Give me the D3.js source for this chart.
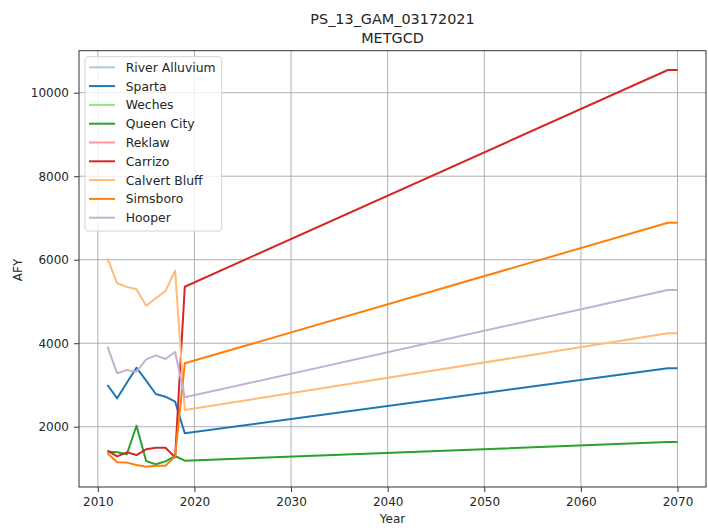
<!DOCTYPE html>
<html>
<head>
<meta charset="utf-8">
<script src="https://cdn.jsdelivr.net/npm/d3@7"></script>
<style>
body { margin:0; background:#fff; }
text { font-family:"DejaVu Sans", sans-serif; fill:#262626; }
</style>
</head>
<body>
<div id="chart-area"></div>
<script>
// data
const years = [2011,2012,2013,2014,2015,2016,2017,2018,2019,2069,2070]

const riverAlluvium = []
const sparta = [2999,2680,3054,3413,3102,2783,2719,2599,1842,3398,3398]
const weches = []
const queenCity = [1401,1387,1339,2024,1178,1099,1170,1298,1186,1633,1633]
const reklaw = []
const carrizo = [1425,1291,1387,1322,1459,1497,1497,1267,5353,10544,10544]
const calvertBluff = [6034,5435,5350,5291,4898,5075,5250,5737,2400,4237,4237]
const simsboro = [1363,1147,1140,1083,1042,1066,1066,1290,3518,6886,6886]
const hooper = [3916,3279,3358,3317,3614,3710,3622,3789,2704,5274,5274]

const seriesNames = ['River Alluvium','Sparta','Weches','Queen City','Reklaw','Carrizo','Calvert Bluff','Simsboro','Hooper']
const seriesValues = [riverAlluvium,sparta,weches,queenCity,reklaw,carrizo,calvertBluff,simsboro,hooper]
const seriesColors = ['#aec7e8','#1f77b4','#98df8a','#2ca02c','#ff9896','#d62728','#ffbb78','#ff7f0e','#c5b0d5']

const xTicks = [2010,2020,2030,2040,2050,2060,2070]
const yTicks = [2000,4000,6000,8000,10000]

const MARGIN = { LEFT:79, RIGHT:2, TOP:50.7, BOTTOM:44 }
const WIDTH = 708 - MARGIN.LEFT - MARGIN.RIGHT
const HEIGHT = 531 - MARGIN.TOP - MARGIN.BOTTOM

const svg = d3.select('#chart-area')
.append('svg')
.attr('width',708)
.attr('height',531)

const g = svg.append('g')
.attr('transform',`translate(${MARGIN.LEFT},${MARGIN.TOP})`)

const x = d3.scaleLinear()
.domain([2008.05,2072.95])
.range([0,WIDTH])

const y = d3.scaleLinear()
.domain([556,11006])
.range([HEIGHT,0])

// grid
g.append('g')
.selectAll('line')
.data(xTicks)
.enter().append('line')
.attr('x1',d=>x(d)).attr('x2',d=>x(d))
.attr('y1',0).attr('y2',HEIGHT)
.attr('stroke','#b0b0b0').attr('stroke-width',1)

g.append('g')
.selectAll('line')
.data(yTicks)
.enter().append('line')
.attr('y1',d=>y(d)).attr('y2',d=>y(d))
.attr('x1',0).attr('x2',WIDTH)
.attr('stroke','#b0b0b0').attr('stroke-width',1)

// lines
const line = d3.line()
.x(d=>x(d[0]))
.y(d=>y(d[1]))

seriesValues.forEach((vals,i)=>{
	if(!vals.length) return
	g.append('path')
	.datum(years.map((yr,j)=>[yr,vals[j]]))
	.attr('fill','none')
	.attr('stroke',seriesColors[i])
	.attr('stroke-width',2)
	.attr('stroke-linejoin','round')
	.attr('d',line)
})

// axes
const xAxisCall = d3.axisBottom(x)
.tickValues(xTicks)
.tickFormat(d3.format('d'))
.tickSizeOuter(0)
.tickSize(5)
.tickPadding(5)

const xAxis = g.append('g')
.attr('transform',`translate(0,${HEIGHT})`)
.call(xAxisCall)

const yAxisCall = d3.axisLeft(y)
.tickValues(yTicks)
.tickFormat(d3.format('d'))
.tickSizeOuter(0)
.tickSize(5)
.tickPadding(5)

const yAxis = g.append('g')
.call(yAxisCall)

;[xAxis,yAxis].forEach(a=>{
	a.select('.domain').remove()
	a.selectAll('line').attr('stroke','#333')
	a.selectAll('text')
	.style('font-family','"DejaVu Sans", sans-serif')
	.style('font-size','12px')
	.attr('fill','#262626')
})

// frame
g.append('rect')
.attr('width',WIDTH)
.attr('height',HEIGHT)
.attr('fill','none')
.attr('stroke','#333')
.attr('stroke-width',1)

// legend
const legend = g.append('g')
.attr('transform',`translate(${85-MARGIN.LEFT},${56.7-MARGIN.TOP})`)

legend.append('rect')
.attr('width',136.7)
.attr('height',174.3)
.attr('rx',3)
.attr('fill','#fff')
.attr('fill-opacity',0.8)
.attr('stroke','#d6d6d6')

seriesNames.map((name,i)=>{
	const row = legend.append('g')
	.attr('transform',`translate(0,${10.6 + i*18.8})`)

	row.append('line')
	.attr('x1',4).attr('x2',30)
	.attr('stroke',seriesColors[i])
	.attr('stroke-width',2)

	row.append('text')
	.attr('x',40.7)
	.attr('y',4.4)
	.style('font-size','12.4px')
	.text(name)
})

// labels
svg.append('text')
.attr('x',MARGIN.LEFT+WIDTH/2)
.attr('y',24)
.attr('text-anchor','middle')
.style('font-size','14.4px')
.text('PS_13_GAM_03172021')

svg.append('text')
.attr('x',MARGIN.LEFT+WIDTH/2)
.attr('y',43.3)
.attr('text-anchor','middle')
.style('font-size','14.4px')
.text('METGCD')

svg.append('text')
.attr('x',MARGIN.LEFT+WIDTH/2)
.attr('y',523)
.attr('text-anchor','middle')
.style('font-size','12px')
.text('Year')

svg.append('text')
.attr('transform','translate(22,270) rotate(-90)')
.attr('text-anchor','middle')
.style('font-size','12px')
.text('AFY')
</script>
</body>
</html>
